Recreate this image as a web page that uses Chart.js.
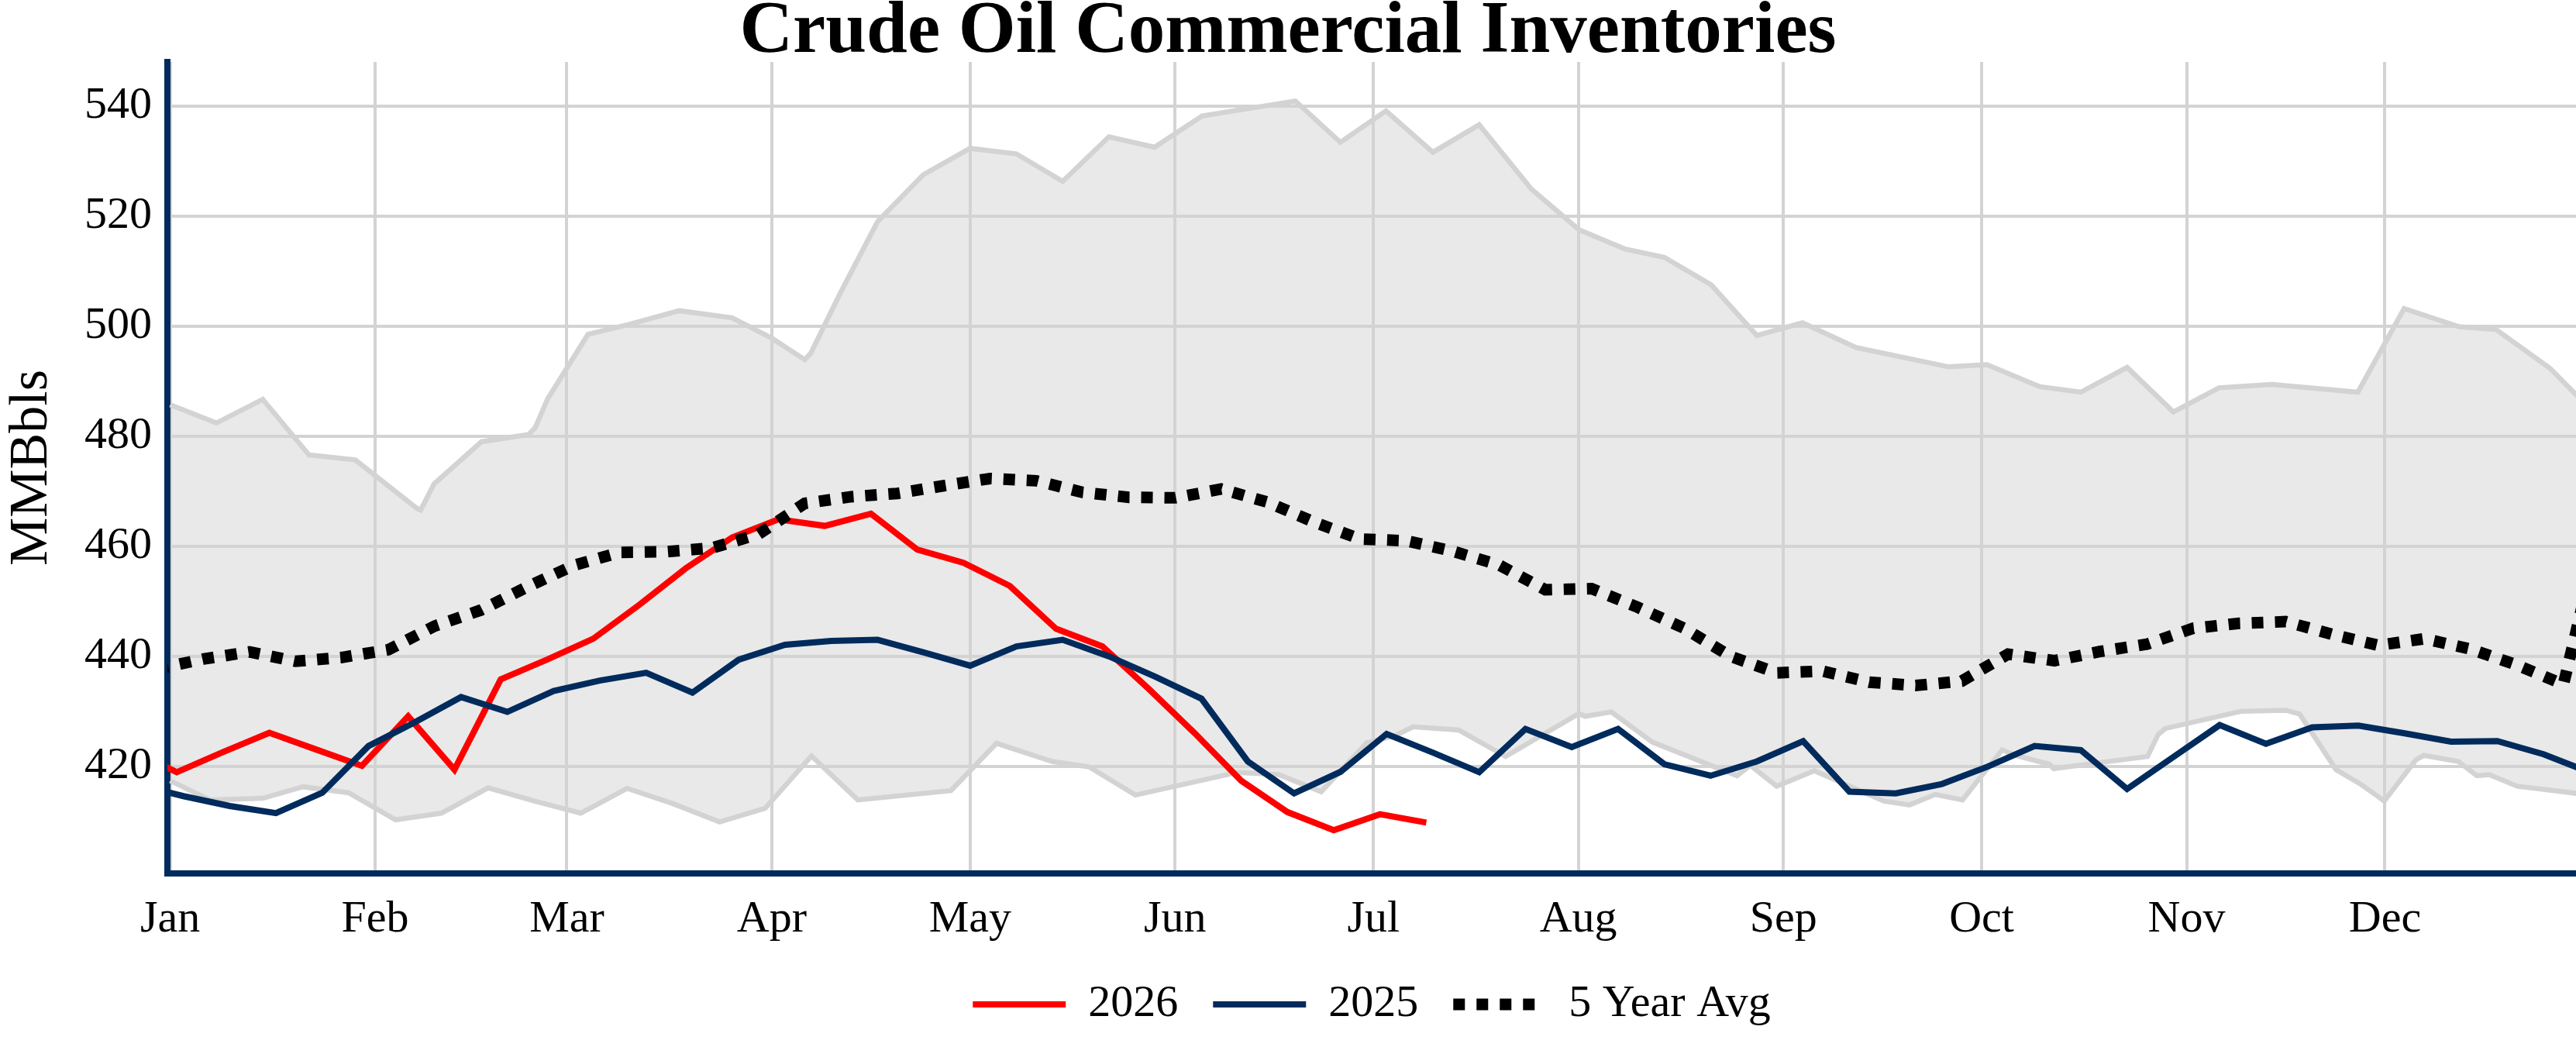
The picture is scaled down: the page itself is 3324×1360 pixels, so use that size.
<!DOCTYPE html>
<html>
<head>
<meta charset="utf-8">
<title>Crude Oil Commercial Inventories</title>
<script src="https://cdn.jsdelivr.net/npm/chart.js@4.4.1/dist/chart.umd.min.js"></script>
<style>
  html, body { margin: 0; padding: 0; background: #ffffff; }
  canvas { display: block; }
</style>
</head>
<body>
<canvas id="inventoryChart" width="3324" height="1360"></canvas>
<script>
// ================================
// Data (x = day of year on a leap-year axis, Jan 1 = 0)
// ================================
const monthLabels = ["Jan", "Feb", "Mar", "Apr", "May", "Jun", "Jul", "Aug", "Sep", "Oct", "Nov", "Dec"];
const monthStartDays = [0, 31, 60, 91, 121, 152, 182, 213, 244, 274, 305, 335];
const yTickValues = [420, 440, 460, 480, 500, 520, 540];

// 2026 weekly inventories
const days2026 = [-6, 1, 8, 15, 22, 29, 36, 43, 50, 57, 64, 71, 78, 85, 92, 99, 106, 113, 120, 127,
  134, 141, 148, 155, 162, 169, 176, 183, 190];
const values2026 = [423.0, 418.95, 422.6, 426.1, 423.1, 420.1, 429.1, 419.4, 435.8, 439.4, 443.2, 449.4,
  456.0, 461.6, 464.9, 463.7, 465.9, 459.4, 457.0, 452.8, 445.0, 441.8, 434.1, 426.0, 417.4, 411.7,
  408.4, 411.3, 409.8];

// 2025 weekly inventories
const days2025 = [-5, 2, 9, 16, 23, 30, 37, 44, 51, 58, 65, 72, 79, 86, 93, 100, 107, 114, 121, 128,
  135, 142, 149, 156, 163, 170, 177, 184, 191, 198, 205, 212, 219, 226, 233, 240, 247, 254, 261, 268,
  275, 282, 289, 296, 303, 310, 317, 324, 331, 338, 345, 352, 359, 366];
const values2025 = [416.7, 414.6, 412.8, 411.5, 415.2, 423.7, 428.0, 432.6, 429.9, 433.7, 435.6, 437.0,
  433.4, 439.4, 442.1, 442.8, 443.0, 440.7, 438.3, 441.8, 443.0, 440.0, 436.3, 432.3, 420.9, 415.1,
  419.0, 425.9, 422.5, 418.95, 426.8, 423.5, 426.8, 420.4, 418.3, 420.9, 424.6, 415.4, 415.1, 416.8,
  420.0, 423.7, 422.95, 415.9, 421.7, 427.5, 424.1, 427.1, 427.4, 426.0, 424.5, 424.6, 422.2, 418.9];

// 5 year average
const daysAvg = [-2, 5, 12, 19, 26, 33, 40, 47, 54, 61, 68, 75, 82, 89, 96, 103, 110, 117, 124, 131,
  138, 145, 152, 159, 166, 173, 180, 187, 194, 201, 208, 215, 222, 229, 236, 243, 250, 257, 264, 271,
  278, 285, 292, 299, 306, 313, 320, 327, 334, 341, 348, 355, 362, 369];
const valuesAvg = [437.7, 439.5, 440.8, 439.1, 439.8, 441.2, 445.5, 448.4, 452.6, 456.5, 458.9, 459.0,
  459.7, 462.2, 467.8, 469.0, 469.6, 471.0, 472.3, 471.9, 469.8, 468.9, 468.8, 470.4, 468.0, 464.4,
  461.3, 461.0, 459.1, 456.6, 452.1, 452.3, 448.9, 445.1, 440.0, 437.0, 437.3, 435.3, 434.7, 435.5,
  440.4, 439.2, 440.9, 442.2, 445.1, 446.0, 446.3, 444.0, 442.0, 443.2, 441.3, 438.4, 434.9, 470.0];

// 5 year range, upper edge
const daysRangeMax = [0, 7, 14, 21, 28, 37.3, 37.9, 39.9, 47.1, 54.2, 55.2, 57.1, 63.2, 69.4, 77.0, 85.0,
  91.0, 96.0, 96.9, 101.4, 107.0, 113.9, 121.0, 128.0, 135.0, 142.0, 148.9, 156.1, 170.2, 177.0, 183.9,
  191.0, 198.0, 205.9, 213.1, 220.1, 226.0, 233.1, 240.0, 246.9, 255.0, 269.0, 274.8, 282.8, 289.0,
  296.0, 303.0, 309.9, 317.9, 330.9, 337.9, 346.2, 351.8, 360.0, 366];
const valuesRangeMax = [485.7, 482.4, 486.7, 476.6, 475.7, 466.9, 466.6, 471.3, 479.0, 480.3, 481.5, 486.8,
  498.5, 500.3, 502.8, 501.5, 497.8, 493.9, 495.1, 506.1, 519.0, 527.5, 532.3, 531.3, 526.3, 534.4,
  532.5, 538.2, 540.9, 533.4, 539.1, 531.6, 536.6, 524.9, 517.5, 514.0, 512.5, 507.5, 498.3, 500.6,
  496.1, 492.6, 493.0, 489.0, 488.0, 492.5, 484.4, 488.8, 489.4, 488.0, 503.2, 499.9, 499.4, 492.3, 485.0];

// 5 year range, lower edge
const daysRangeMin = [0, 6.0, 14.0, 20.1, 27.0, 34.1, 41.0, 48.1, 55.1, 62.1, 69.1, 76.1, 83.1, 90.0, 97.0,
  104.0, 118.1, 125.0, 133.4, 139.0, 146.0, 161.4, 167.7, 174.1, 181.0, 185.3, 188.0, 194.9, 202.0,
  213.1, 214.0, 218.0, 224.2, 237.0, 239.0, 243.0, 248.7, 259.2, 263.1, 267.0, 271.1, 277.1, 279.1,
  284.2, 284.9, 299.1, 300.7, 301.8, 313.2, 320.0, 322.1, 327.6, 331.3, 334.9, 339.7, 340.9, 346.1,
  348.9, 350.8, 355.0, 366];
const valuesRangeMin = [417.4, 413.9, 414.2, 416.3, 415.2, 410.3, 411.5, 416.1, 413.7, 411.5, 416.0, 413.2,
  409.9, 412.4, 421.9, 413.9, 415.6, 424.2, 420.9, 419.9, 414.8, 418.9, 418.5, 415.4, 424.3, 425.6,
  427.2, 426.6, 421.8, 429.6, 429.1, 429.9, 424.4, 418.3, 420.2, 416.4, 419.2, 413.7, 413.0, 414.9,
  413.9, 423.0, 422.0, 420.4, 419.6, 421.8, 425.8, 426.9, 430.0, 430.2, 429.5, 419.4, 416.8, 413.7,
  421.2, 422.0, 420.9, 418.3, 418.5, 416.4, 414.8];

// ================================
// Style
// ================================
const FONT = "'Liberation Serif', 'Times New Roman', serif";
const NAVY = "#002b5c";
const GRID = "#d3d3d3";

function toPoints(days, values) {
  return days.map((d, i) => ({ x: d, y: values[i] }));
}

// ================================
// CHART
// ================================
const ctx = document.getElementById("inventoryChart");

new Chart(ctx, {
  type: "line",
  data: {
    datasets: [
      { label: "2026", data: toPoints(days2026, values2026), borderColor: "#ff0000", backgroundColor: "#ff0000",
        borderWidth: 8, pointRadius: 0, fill: false, order: 2, clip: 0 },
      { label: "2025", data: toPoints(days2025, values2025), borderColor: NAVY, backgroundColor: NAVY,
        borderWidth: 8, pointRadius: 0, fill: false, order: 1, clip: 0 },
      { label: "5 Year Avg", data: toPoints(daysAvg, valuesAvg), borderColor: "#000000", backgroundColor: "#000000",
        borderWidth: 15, borderDash: [15, 15], borderCapStyle: "butt", pointRadius: 0, fill: false, order: 0, clip: 0 },
      { label: "Range Max", data: toPoints(daysRangeMax, valuesRangeMax), borderColor: GRID,
        backgroundColor: "rgba(211, 211, 211, 0.5)", borderWidth: 6.5, pointRadius: 0, fill: 4, order: 3, clip: 0 },
      { label: "Range Min", data: toPoints(daysRangeMin, valuesRangeMin), borderColor: GRID,
        backgroundColor: "rgba(211, 211, 211, 0.5)", borderWidth: 6.5, pointRadius: 0, fill: false, order: 4, clip: 0 },
    ],
  },
  options: {
    responsive: false,
    animation: false,
    devicePixelRatio: 1,
    layout: { padding: { left: 0, right: 0, top: 0, bottom: 25 } },
    scales: {
      x: {
        type: "linear",
        min: -0.42,
        max: 363.9,
        afterBuildTicks: (scale) => { scale.ticks = monthStartDays.map((v) => ({ value: v })); },
        afterFit: (scale) => { scale.height = 95; },
        ticks: {
          autoSkip: false,
          maxRotation: 0,
          padding: 24.5,
          color: "#000000",
          font: { family: FONT, size: 58 },
          callback: (value, index) => monthLabels[index],
        },
        grid: { color: GRID, lineWidth: 4, drawTicks: false },
        border: { display: true, color: NAVY, width: 8 },
      },
      y: {
        type: "linear",
        min: 400.55,
        max: 548,
        afterBuildTicks: (scale) => { scale.ticks = yTickValues.map((v) => ({ value: v })); },
        afterFit: (scale) => { scale.width = 216; },
        ticks: {
          padding: 20,
          color: "#000000",
          font: { family: FONT, size: 58 },
          callback: (value) => String(value),
        },
        grid: { color: GRID, lineWidth: 4, drawTicks: false },
        border: { display: true, color: NAVY, width: 8 },
        title: {
          display: true,
          text: "MMBbls",
          color: "#000000",
          font: { family: FONT, size: 70, lineHeight: 1 },
          padding: { top: 6.4, bottom: 0 },
        },
      },
    },
    plugins: {
      title: {
        display: true,
        text: "Crude Oil Commercial Inventories",
        color: "#000000",
        font: { family: FONT, size: 95, weight: "bold", lineHeight: 0.73 },
        padding: { top: 7.5, bottom: 3.1 },
      },
      legend: {
        position: "bottom",
        fullSize: false,
        labels: {
          usePointStyle: true,
          pointStyle: "line",
          pointStyleWidth: 120,
          padding: 45,
          color: "#000000",
          font: { family: FONT, size: 58 },
          generateLabels: (chart) => chart.data.datasets.slice(0, 3).map((ds, i) => ({
            text: ds.label,
            fillStyle: ds.borderColor,
            strokeStyle: ds.borderColor,
            lineWidth: ds.borderWidth,
            lineDash: ds.borderDash || [],
            lineCap: "butt",
            pointStyle: "line",
            fontColor: "#000000",
            hidden: false,
            datasetIndex: i,
          })),
        },
      },
      tooltip: { enabled: false },
    },
  },
});
</script>
</body>
</html>
